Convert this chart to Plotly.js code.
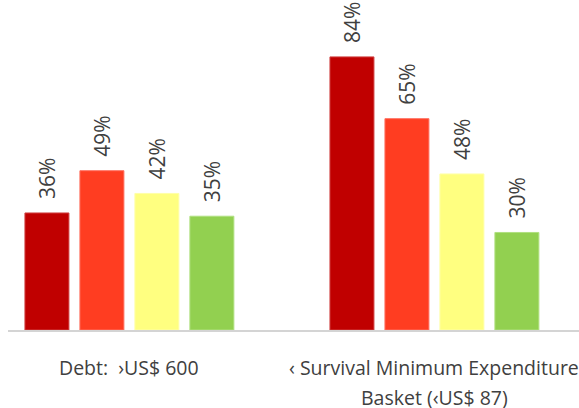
<!DOCTYPE html>
<html>
<head>
<meta charset="utf-8">
<script src="https://cdn.plot.ly/plotly-3.0.1.min.js"></script>
<style>html,body{margin:0;padding:0;background:#fff;}#chart{width:579px;height:408px;}</style>
</head>
<body>
<div id="chart"></div>
<script>
var categories = ["Debt: \u00a0\u203AUS$ 600", "\u2039 Survival Minimum Expenditure<br>Basket (\u2039US$ 87)"];
var seriesNames = ["Series 1", "Series 2", "Series 3", "Series 4"];
var seriesValues = [
  [36, 84],
  [49, 65],
  [42, 48],
  [35, 30]
];
var seriesColors = ["#C00000", "#FF3D21", "#FFFF80", "#92D050"];
var lineColors = ["#D04040", "#FF7060", "#FFFFA8", "#B0E080"];

var fontFam = "'Open Sans', 'Noto Sans', sans-serif";
var textColor = "#404040";

var traces = seriesValues.map(function (vals, i) {
  return {
    type: "bar",
    name: seriesNames[i],
    x: [0, 1],
    y: vals,
    marker: { color: seriesColors[i], line: { color: lineColors[i], width: 1 } },
    text: vals.map(function (v) { return "\u00a0\u00a0" + v + "%"; }),
    textposition: "outside",
    textangle: -90,
    constraintext: "none",
    cliponaxis: false,
    textfont: { family: fontFam, size: 21, color: textColor },
    hoverinfo: "skip"
  };
});

var annotations = [];
categories.forEach(function (label, ci) {
  label.split("<br>").forEach(function (line, li) {
    annotations.push({
      x: ci, xref: "x", y: 0, yref: "paper",
      text: line, showarrow: false,
      xanchor: "center", yanchor: "middle",
      yshift: -37 - li * 30,
      font: { family: fontFam, size: 19.5, color: textColor }
    });
  });
});

var layout = {
  width: 579, height: 408,
  margin: { l: 8, r: 0, t: 0, b: 78, pad: 0 },
  paper_bgcolor: "#ffffff", plot_bgcolor: "#ffffff",
  showlegend: false,
  barmode: "group",
  bargap: 0.279,
  bargroupgap: 0.2,
  xaxis: {
    range: [-0.398, 1.474],
    showticklabels: false, ticks: "",
    showgrid: false, zeroline: false,
    showline: true, linecolor: "#D4D4D4", linewidth: 2,
    fixedrange: true
  },
  yaxis: {
    range: [0, 101.5],
    visible: false, showgrid: false, zeroline: false,
    fixedrange: true
  },
  annotations: annotations
};

Plotly.newPlot("chart", traces, layout, { displayModeBar: false, staticPlot: true });
</script>
</body>
</html>
